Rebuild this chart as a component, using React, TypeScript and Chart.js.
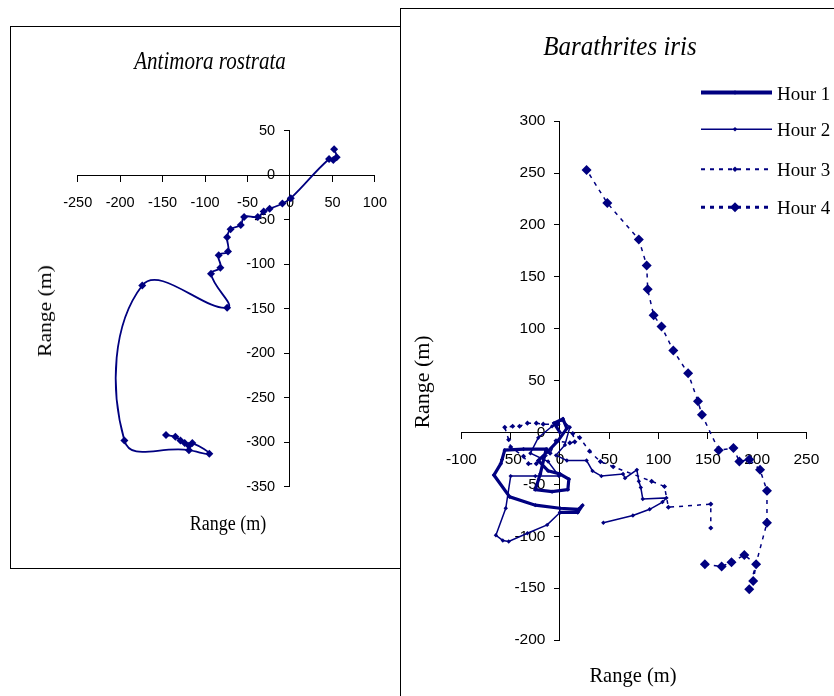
import React, { useEffect, useRef } from 'react';
import { Chart, registerables } from 'chart.js';

Chart.register(...registerables);

const NAVY = '#000080';
const SANS = '"Liberation Sans", Arial, sans-serif';
const SERIF = '"Liberation Serif", "Times New Roman", serif';

// ---------- Antimora rostrata (left panel) ----------
const antimoraX = [52, 55, 51, 46, 1, -9, -24, -31, -38, -54, -58, -70, -74, -73, -84, -82, -93, -74, -174, -195, -119, -95, -115, -119, -124, -129, -135, -146];
const antimoraY = [29, 20, 17, 18, -26, -32, -38, -41, -47, -47, -56, -61, -70, -86, -90, -104, -111, -149, -124, -298, -309, -313, -301, -304, -301, -298, -294, -292];
const leftXRange = [-250, 100];
const leftYRange = [-350, 50];

// ---------- Barathrites iris (right panel) ----------
const hourLabels = ['Hour 1', 'Hour 2', 'Hour 3', 'Hour 4'];
const hour1X = [0, -6, 3, 7, -2, -12, -22, -12, 0, 9, 8, -8, -25, -20, -14, -37, -56, -60, -67, -51, -25, 0, 19, 23, 18, 0];
const hour1Y = [0, 9, 13, 4, -8, -18, -27, -37, -40, -45, -55, -57, -55, -40, -16, -16, -17, -30, -41, -62, -70, -73, -74, -70, -77, -77];
const hour2X = [0, -13, -33, -52, -58, -65, -55, -50, -25, -1, -12, -30, -22, -8, 2, 10, 5, -4, 7, 27, 33, 42, 64, 66, 78, 80, 82, 84, 108, 104, 91, 74, 44];
const hour2Y = [-77, -89, -97, -105, -104, -99, -73, -42, -42, -42, -28, -20, -5, 6, 12, 5, -12, -22, -27, -27, -37, -42, -40, -44, -36, -47, -53, -64, -63, -67, -74, -80, -87];
const hour3X = [-2, -17, -24, -33, -41, -48, -56, -52, -50, -37, -32, -24, -10, -4, 10, 15, 13, 20, 30, 41, 54, 93, 106, 110, 153, 153];
const hour3Y = [8, 8, 9, 9, 6, 6, 5, -7, -14, -23, -30, -30, -20, -8, -10, -9, -1, -5, -18, -28, -33, -47, -52, -72, -69, -92];
const hour4X = [147, 164, 174, 187, 199, 196, 192, 210, 210, 203, 192, 182, 176, 161, 144, 140, 130, 115, 103, 95, 89, 88, 80, 48, 27];
const hour4Y = [-127, -129, -125, -118, -127, -143, -151, -87, -56, -36, -26, -28, -15, -17, 17, 30, 57, 79, 102, 113, 138, 161, 186, 221, 253];
const rightXRange = [-100, 250];
const rightYRange = [-200, 300];
const tickStep = 50;

const pts = (xs: number[], ys: number[]) => xs.map((x, i) => ({ x, y: ys[i] }));
const zeroWidth = (s: any) => { s.width = 0; };
const zeroHeight = (s: any) => { s.height = 0; };

function axes(xr: number[], yr: number[], fontSize: number, xPad: number, labelOffset: number) {
  const font = { family: SANS, size: fontSize };
  return {
    x: {
      type: 'linear', axis: 'x', min: xr[0], max: xr[1], position: { y: 0 }, afterFit: zeroHeight,
      border: { display: true, color: '#000', width: 1 },
      grid: { display: true, drawOnChartArea: false, drawTicks: true, tickLength: 6, tickColor: '#000', tickWidth: 1 },
      ticks: { stepSize: tickStep, autoSkip: false, maxRotation: 0, minRotation: 0, padding: xPad, color: '#000', font },
    },
    y: {
      type: 'linear', axis: 'y', min: yr[0], max: yr[1], position: { x: 0 }, afterFit: zeroWidth,
      border: { display: true, color: '#000', width: 1 },
      grid: { display: true, drawOnChartArea: false, drawTicks: true, tickLength: 5, tickColor: '#000', tickWidth: 1 },
      ticks: { display: false, stepSize: tickStep, autoSkip: false },
    },
    yLab: {
      type: 'linear', axis: 'y', min: yr[0], max: yr[1], position: { x: labelOffset }, afterFit: zeroWidth,
      border: { display: false },
      grid: { display: false },
      ticks: { stepSize: tickStep, autoSkip: false, padding: 0, color: '#000', font },
    },
  };
}

const legendRows = [83.5, 120.3, 160.3, 198.3];
const legendStyles = [
  { w: 4, dash: [] as number[], r: 2.3 },
  { w: 1.5, dash: [] as number[], r: 2.3 },
  { w: 2, dash: [4, 5], r: 2.8 },
  { w: 3, dash: [4, 5], r: 5 },
];

const legendPlugin = {
  id: 'hourLegend',
  afterDraw(chart: any) {
    const ctx = chart.ctx;
    legendStyles.forEach((s, i) => {
      const y = legendRows[i];
      ctx.save();
      ctx.strokeStyle = NAVY;
      ctx.fillStyle = NAVY;
      ctx.lineWidth = s.w;
      ctx.setLineDash(s.dash);
      ctx.beginPath();
      ctx.moveTo(300, y);
      ctx.lineTo(371, y);
      ctx.stroke();
      ctx.setLineDash([]);
      ctx.beginPath();
      ctx.moveTo(334, y - s.r);
      ctx.lineTo(334 + s.r, y);
      ctx.lineTo(334, y + s.r);
      ctx.lineTo(334 - s.r, y);
      ctx.closePath();
      ctx.fill();
      ctx.restore();
    });
  },
};

function leftConfig(): any {
  return {
    type: 'scatter',
    data: {
      datasets: [{
        label: 'Antimora rostrata', data: pts(antimoraX, antimoraY), showLine: true, tension: 0.45,
        borderColor: NAVY, borderWidth: 1.8, pointStyle: 'rectRot', pointRadius: 4,
        pointBackgroundColor: NAVY, pointBorderColor: NAVY, pointBorderWidth: 0,
      }],
    },
    options: {
      responsive: false, animation: false, events: [],
      layout: { padding: { left: 66.7, right: 21.7, top: 103.5, bottom: 81.3 } },
      plugins: { legend: { display: false }, tooltip: { enabled: false } },
      scales: axes(leftXRange, leftYRange, 14.5, 13, -15 / 0.8594),
    },
  };
}

function rightConfig(): any {
  const base = { showLine: true, tension: 0, borderColor: NAVY, pointStyle: 'rectRot', pointBackgroundColor: NAVY, pointBorderColor: NAVY, pointBorderWidth: 0 };
  return {
    type: 'scatter',
    data: {
      datasets: [
        { ...base, label: hourLabels[0], data: pts(hour1X, hour1Y), borderWidth: 3.2, pointRadius: 2.2 },
        { ...base, label: hourLabels[1], data: pts(hour2X, hour2Y), borderWidth: 1.5, pointRadius: 2.2 },
        { ...base, label: hourLabels[2], data: pts(hour3X, hour3Y), borderWidth: 1.5, borderDash: [4, 5], pointRadius: 2.6 },
        { ...base, label: hourLabels[3], data: pts(hour4X, hour4Y), borderWidth: 1.5, borderDash: [4, 5], pointRadius: 5 },
      ],
    },
    options: {
      responsive: false, animation: false, events: [],
      layout: { padding: { left: 60.4, right: 27.6, top: 112.1, bottom: 55.9 } },
      plugins: { legend: { display: false }, tooltip: { enabled: false } },
      scales: axes(rightXRange, rightYRange, 15.5, 12, -14.5 / 0.9857),
    },
    plugins: [legendPlugin],
  };
}

const abs = (l: number, t: number, extra: React.CSSProperties = {}): React.CSSProperties => ({ position: 'absolute', left: l, top: t, ...extra });

function Label({ x, y, size, italic, transform, children }: any) {
  return (
    <div style={abs(x, y, {
      fontFamily: SERIF, fontSize: size, fontStyle: italic ? 'italic' : 'normal', lineHeight: 1,
      whiteSpace: 'nowrap', color: '#000', transform: `translate(-50%, -50%) ${transform || ''}`, zIndex: 10,
    })}>{children}</div>
  );
}

export default function App() {
  const leftRef = useRef<HTMLCanvasElement>(null);
  const rightRef = useRef<HTMLCanvasElement>(null);

  useEffect(() => {
    const left = new Chart(leftRef.current as HTMLCanvasElement, leftConfig());
    const right = new Chart(rightRef.current as HTMLCanvasElement, rightConfig());
    return () => { left.destroy(); right.destroy(); };
  }, []);

  return (
    <div style={{ position: 'fixed', left: 0, top: 0, width: 834, height: 696, background: '#fff', overflow: 'hidden' }}>
      <div style={abs(10, 26, { width: 420, height: 543, border: '1px solid #000', boxSizing: 'border-box', background: '#fff', zIndex: 1 })} />
      <canvas ref={leftRef} width={389} height={541} style={abs(11, 27, { width: 389, height: 541, zIndex: 2 })} />
      <Label x={210} y={61} size={21} italic transform="scaleY(1.2)">Antimora rostrata</Label>
      <Label x={45} y={311} size={18} transform="rotate(-90deg) scaleX(1.2)">Range (m)</Label>
      <Label x={228} y={523} size={18} transform="scaleY(1.2)">Range (m)</Label>

      <div style={abs(400, 8, { width: 460, height: 720, border: '1px solid #000', boxSizing: 'border-box', background: '#fff', zIndex: 11 })} />
      <canvas ref={rightRef} width={433} height={687} style={abs(401, 9, { width: 433, height: 687, zIndex: 12 })} />
      <div style={{ position: 'absolute', left: 0, top: 0, width: 834, height: 696, zIndex: 13 }}>
        <Label x={620} y={46} size={25} italic transform="scaleY(1.07)">Barathrites iris</Label>
        <Label x={421.7} y={381.7} size={20.5} transform="rotate(-90deg) scaleX(1.07)">Range (m)</Label>
        <Label x={633} y={675} size={20.5} transform="scaleY(1.07)">Range (m)</Label>
        {hourLabels.map((t, i) => (
          <div key={t} style={abs(777, legendRows[i] + 9, {
            fontFamily: SERIF, fontSize: 19, lineHeight: 1, whiteSpace: 'nowrap', color: '#000', transform: 'translateY(-50%)',
          })}>{t}</div>
        ))}
      </div>
    </div>
  );
}
